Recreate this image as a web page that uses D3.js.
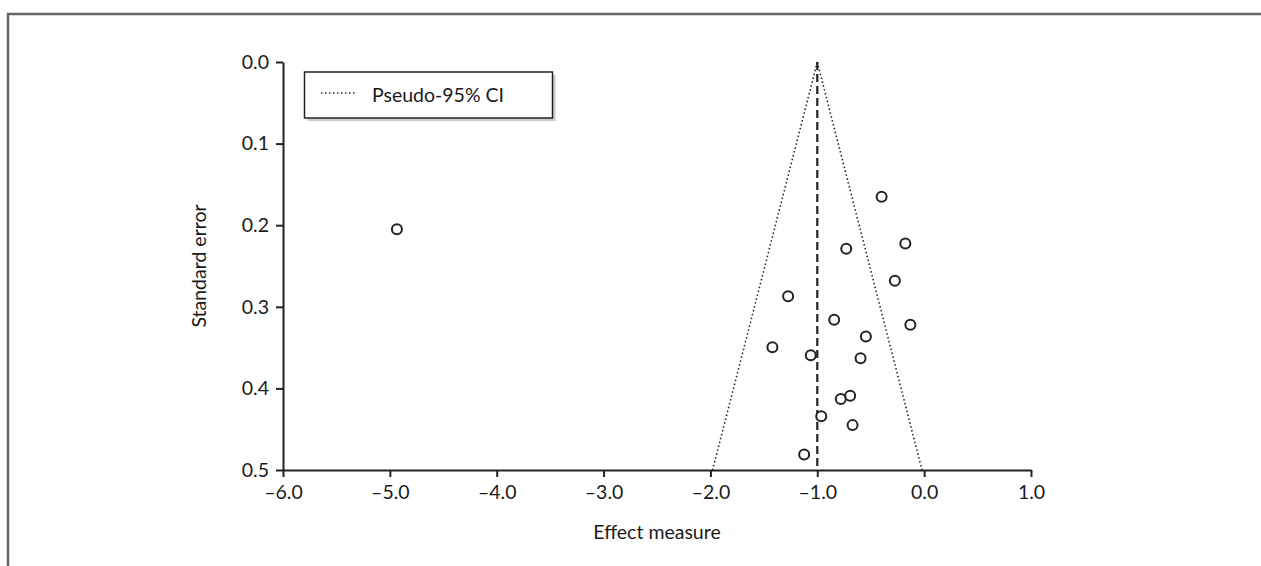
<!DOCTYPE html>
<html>
<head>
<meta charset="utf-8">
<script src="https://cdn.jsdelivr.net/npm/d3@7"></script>
<style>
  html, body { margin: 0; padding: 0; background: #fff; }
  svg { display: block; }
  text { font-family: Lato, "Open Sans", sans-serif; fill: #1a1a1a; }
</style>
</head>
<body>
<svg id="chart" width="1261" height="566"></svg>
<script>
// ---- Data ----
const effectValues = [-0.398, -0.176, -0.729, -0.274, -1.273, -0.842, -0.129, -0.545, -1.42, -1.061, -0.595, -0.78, -0.692, -0.963, -0.67, -1.123, -4.934];
const seValues     = [0.165, 0.2225, 0.229, 0.268, 0.287, 0.316, 0.322, 0.3365, 0.3495, 0.3593, 0.363, 0.413, 0.409, 0.434, 0.445, 0.481, 0.205];
const pooledEffect = -1.0;
const ciLeft  = [[-1.0, 0.0], [-1.98, 0.5]];
const ciRight = [[-1.0, 0.0], [-0.02, 0.5]];
const xTicks = [-6, -5, -4, -3, -2, -1, 0, 1];
const yTicks = [0, 0.1, 0.2, 0.3, 0.4, 0.5];
const xTitle = "Effect measure";
const yTitle = "Standard error";
const legendLabel = "Pseudo-95% CI";

// ---- Layout ----
const svg = d3.select("#chart");
const plotL = 283, plotR = 1031, plotT = 62, plotB = 470;
const x = d3.scaleLinear().domain([-6, 1]).range([plotL, plotR]);
const y = d3.scaleLinear().domain([0, 0.5]).range([plotT, plotB]);
const ink = "#222";
const fs = 19.5;
const fmt = d => (d < 0 ? "\u2013" : "") + Math.abs(d).toFixed(1);

// outer frame
svg.append("rect").attr("x", 8).attr("y", 14).attr("width", 1300).attr("height", 600)
  .attr("fill", "none").attr("stroke", "#666").attr("stroke-width", 2.5);

// axes
const xAxis = svg.append("g").attr("transform", `translate(0,${plotB})`)
  .call(d3.axisBottom(x).tickValues(xTicks).tickFormat(fmt).tickSize(7).tickPadding(8).tickSizeOuter(0));
const yAxis = svg.append("g").attr("transform", `translate(${plotL},0)`)
  .call(d3.axisLeft(y).tickValues(yTicks).tickFormat(d => d.toFixed(1)).tickSize(7).tickPadding(7).tickSizeOuter(0));
[xAxis, yAxis].forEach(g => {
  g.select(".domain").attr("stroke", ink).attr("stroke-width", 2);
  g.selectAll(".tick line").attr("stroke", ink).attr("stroke-width", 2);
  g.selectAll(".tick text").attr("font-size", fs).attr("fill", "#1a1a1a")
    .attr("font-family", "Lato, 'Open Sans', sans-serif");
});

// CI lines
const line = d3.line().x(d => x(d[0])).y(d => y(d[1]));
[ciLeft, ciRight].forEach(seg => {
  svg.append("path").attr("d", line(seg)).attr("fill", "none")
    .attr("stroke", ink).attr("stroke-width", 1.6).attr("stroke-dasharray", "1.5,2.5");
});

// pooled effect dashed line
svg.append("line")
  .attr("x1", x(pooledEffect)).attr("x2", x(pooledEffect))
  .attr("y1", y(0)).attr("y2", y(0.5))
  .attr("stroke", ink).attr("stroke-width", 2.2).attr("stroke-dasharray", "8,4");

// points
svg.append("g").selectAll("circle")
  .data(effectValues.map((e, i) => [e, seValues[i]]))
  .join("circle")
  .attr("cx", d => x(d[0])).attr("cy", d => y(d[1])).attr("r", 5)
  .attr("fill", "#fff").attr("stroke", ink).attr("stroke-width", 2);

// legend
const lg = svg.append("g");
lg.append("rect").attr("x", 307.5).attr("y", 75).attr("width", 248).attr("height", 46).attr("fill", "#ccc");
lg.append("rect").attr("x", 304.5).attr("y", 72).attr("width", 248).attr("height", 46)
  .attr("fill", "#fff").attr("stroke", ink).attr("stroke-width", 1.5);
lg.append("line").attr("x1", 321).attr("x2", 356).attr("y1", 93).attr("y2", 93)
  .attr("stroke", ink).attr("stroke-width", 1.5).attr("stroke-dasharray", "1.5,2.5");
lg.append("text").attr("x", 372).attr("y", 101.5).attr("font-size", fs).text(legendLabel);

// axis titles
svg.append("text").attr("x", (plotL + plotR) / 2).attr("y", 539).attr("text-anchor", "middle")
  .attr("font-size", fs).text(xTitle);
svg.append("text").attr("transform", `translate(206,${(plotT + plotB) / 2}) rotate(-90)`)
  .attr("text-anchor", "middle").attr("font-size", fs).text(yTitle);
</script>
</body>
</html>
